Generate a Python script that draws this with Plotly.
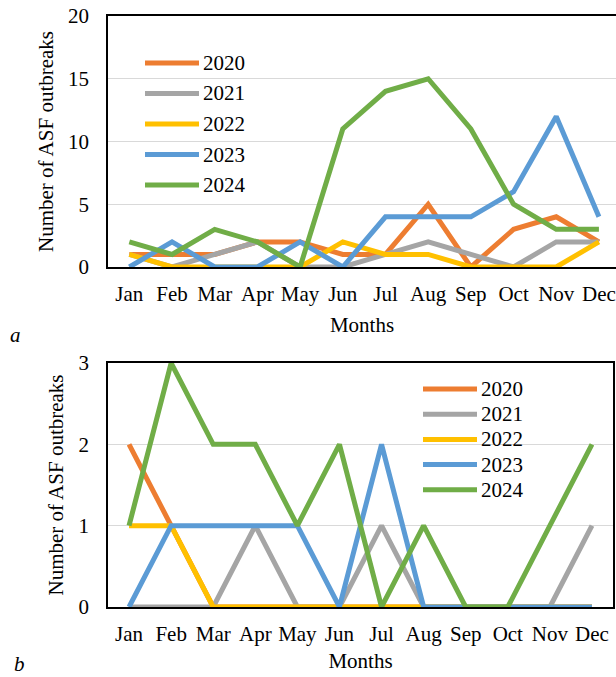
import plotly.graph_objects as go
from plotly.subplots import make_subplots

months = ["Jan", "Feb", "Mar", "Apr", "May", "Jun", "Jul", "Aug", "Sep", "Oct", "Nov", "Dec"]
years = ["2020", "2021", "2022", "2023", "2024"]
colors = ["#ED7D31", "#A5A5A5", "#FFC000", "#5B9BD5", "#70AD47"]

# Panel a
a_2020 = [1, 1, 1, 2, 2, 1, 1, 5, 0, 3, 4, 2]
a_2021 = [1, 0, 1, 2, 0, 0, 1, 2, 1, 0, 2, 2]
a_2022 = [1, 0, 0, 0, 0, 2, 1, 1, 0, 0, 0, 2]
a_2023 = [0, 2, 0, 0, 2, 0, 4, 4, 4, 6, 12, 4]
a_2024 = [2, 1, 3, 2, 0, 11, 14, 15, 11, 5, 3, 3]

# Panel b
b_2020 = [2, 1, 0, 0, 0, 0, 0, 0, 0, 0, 0, 0]
b_2021 = [0, 0, 0, 1, 0, 0, 1, 0, 0, 0, 0, 1]
b_2022 = [1, 1, 0, 0, 0, 0, 0, 0, 0, 0, 0, 0]
b_2023 = [0, 1, 1, 1, 1, 0, 2, 0, 0, 0, 0, 0]
b_2024 = [1, 3, 2, 2, 1, 2, 0, 1, 0, 0, 1, 2]

a_ticks = [0, 5, 10, 15, 20]
b_ticks = [0, 1, 2, 3]

a_series = [a_2020, a_2021, a_2022, a_2023, a_2024]
b_series = [b_2020, b_2021, b_2022, b_2023, b_2024]

FONT = "Liberation Serif"
W, H = 616, 677
ML, MR, MT, MB = 108, 0, 16, 70
PW, PH = W - ML - MR, H - MT - MB

def px_x(x):
    return (x - ML) / PW

def px_y(y):
    return (H - MB - y) / PH

fig = make_subplots(rows=2, cols=1)

for name, col, vals in zip(years, colors, a_series):
    fig.add_trace(go.Scatter(x=months, y=vals, mode="lines", name=name,
                             line=dict(color=col, width=5), showlegend=False),
                  row=1, col=1)
for name, col, vals in zip(years, colors, b_series):
    fig.add_trace(go.Scatter(x=months, y=vals, mode="lines", name=name,
                             line=dict(color=col, width=5), showlegend=False),
                  row=2, col=1)

axis_font = dict(family=FONT, size=21, color="black")

fig.update_layout(
    width=W, height=H,
    margin=dict(l=ML, r=MR, t=MT, b=MB),
    paper_bgcolor="white", plot_bgcolor="white",
    font=axis_font,
    xaxis=dict(domain=[0, 1], anchor="y", range=[-0.5, 11.4], showline=True, mirror=True,
               linecolor="black", linewidth=1.5, showgrid=False, ticks="",
               ticklabelstandoff=7, tickfont=axis_font,
               title=dict(text="Months", font=axis_font, standoff=12)),
    yaxis=dict(domain=[px_y(267), 1], anchor="x", range=[0, 20], tickvals=a_ticks,
               showline=True, mirror=False, linecolor="black", linewidth=1.5,
               showgrid=True, gridcolor="#D9D9D9", gridwidth=1.25, zeroline=False,
               ticks="", ticklabelstandoff=13, tickfont=axis_font,
               title=dict(text="Number of ASF outbreaks", font=axis_font, standoff=9)),
    xaxis2=dict(domain=[0, px_x(613)], anchor="y2", range=[-0.5, 11.5], showline=True, mirror=True,
                linecolor="black", linewidth=1.5, showgrid=False, ticks="",
                ticklabelstandoff=7, tickfont=axis_font,
                title=dict(text="Months", font=axis_font, standoff=8)),
    yaxis2=dict(domain=[0, px_y(363)], anchor="x2", range=[0, 3], tickvals=b_ticks,
                showline=True, mirror=True, linecolor="black", linewidth=1.5,
                showgrid=True, gridcolor="#D9D9D9", gridwidth=1.25, zeroline=False,
                ticks="", ticklabelstandoff=13, tickfont=axis_font,
                title=dict(text="Number of ASF outbreaks", font=axis_font, standoff=9)),
    showlegend=False,
)

# Legends (drawn as key lines + labels)
def add_legend(x0, x1, xt, y0, dy):
    for i, (name, col) in enumerate(zip(years, colors)):
        yy = px_y(y0 + i * dy)
        fig.add_shape(type="line", xref="paper", yref="paper",
                      x0=px_x(x0), x1=px_x(x1), y0=yy, y1=yy,
                      line=dict(color=col, width=5))
        fig.add_annotation(xref="paper", yref="paper", x=px_x(xt), y=yy,
                           text=name, showarrow=False, xanchor="left", yanchor="middle",
                           font=axis_font)

add_legend(145, 199, 201, 63, 30.5)
add_legend(423, 477, 479, 389, 25.2)

# Panel labels
fig.add_annotation(xref="paper", yref="paper", x=px_x(8), y=px_y(335), text="<i>a</i>",
                   showarrow=False, xanchor="left", yanchor="middle", font=axis_font)
fig.add_annotation(xref="paper", yref="paper", x=px_x(12), y=px_y(664), text="<i>b</i>",
                   showarrow=False, xanchor="left", yanchor="middle", font=axis_font)

fig.write_html("out.html", post_script="document.body.style.margin='0';",
               config={"displayModeBar": False})
